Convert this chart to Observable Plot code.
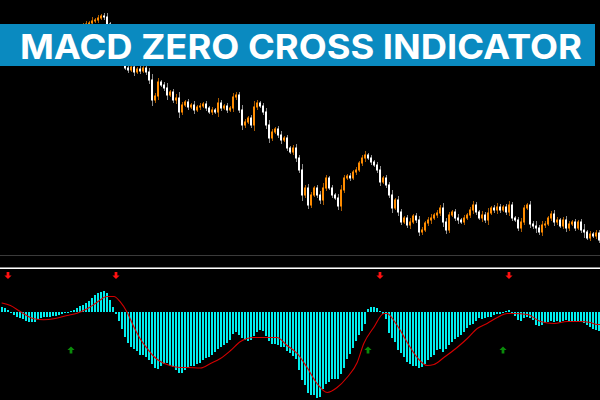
<!DOCTYPE html>
<html>
<head>
<meta charset="utf-8">
<script src="https://cdn.jsdelivr.net/npm/d3@7"></script>
<script src="https://cdn.jsdelivr.net/npm/@observablehq/plot@0.6"></script>
<style>
  html, body { margin: 0; padding: 0; background: #000; }
  #wrap { position: relative; width: 600px; height: 400px; background: #000; overflow: hidden; }
  #wrap svg { display: block; }
  .sep { width: 600px; }
</style>
</head>
<body>
<div id="wrap">
  <div id="price"></div>
  <div class="sep" style="height:1px;background:#3a3a3a"></div>
  <div class="sep" style="height:11px;background:#000"></div>
  <div class="sep" style="height:1px;background:#8a8a8a"></div>
  <div class="sep" style="height:1px;background:#ffffff"></div>
  <div id="macd"></div>
  <div id="banner" style="position:absolute;left:0;top:24px;width:595px;height:42px;background:#0a8ac0">
    <svg width="595" height="42" style="display:block">
      <text x="301" y="35" text-anchor="middle" fill="#ffffff" font-family="Inter, 'Open Sans', sans-serif" font-weight="700" font-size="34" textLength="562" lengthAdjust="spacingAndGlyphs">MACD ZERO CROSS INDICATOR</text>
    </svg>
  </div>
</div>
<script>
// ---- price closes (points), one per bar ----
const closes = [
  215,213,210,212,208,205,207,203,200,202,199,197,200,198,195,197,200,198,201,203,
  205,207,210,213,217,220,225,230,231,232,234,235,237,239,238,231,225,215,205,197,
  193,187,185,188,183,186,184,187,183,175,155,159,173,170,167,160,163,155,157,143,
  150,153,148,150,145,148,149,151,147,143,145,143,152,147,149,145,147,158,160,145,
  130,133,137,130,148,152,149,143,130,117,123,126,120,115,117,107,103,107,97,85,
  60,67,50,60,67,60,55,67,77,67,60,57,49,65,77,79,77,83,85,92,
  97,100,97,93,90,85,73,77,70,60,47,55,43,33,37,30,33,39,35,23,
  25,32,35,37,40,42,47,33,25,40,43,37,35,33,37,40,45,50,43,37,
  40,35,42,47,45,48,45,48,43,50,37,35,27,33,47,50,31,29,27,23,
  30,31,37,41,33,35,29,35,27,31,33,27,33,25,23,17,21,19,22,15
];

// ---- wick length beyond the body (points), one per bar ----
const wicks = [
  3,2,4,2,3,3,2,4,3,2,3,2,4,3,2,3,2,3,4,2,
  3,2,3,4,2,3,3,2,3,2,4,2,3,2,3,4,2,3,3,2,
  3,2,3,2,4,2,3,2,3,4,6,3,4,2,3,5,2,3,4,6,
  3,2,3,2,4,2,3,2,3,2,3,2,5,3,2,3,2,4,3,3,
  5,3,2,3,6,3,2,3,4,5,3,2,3,4,2,3,2,3,4,3,
  6,3,4,3,2,3,4,5,3,2,3,2,4,5,3,2,3,2,3,2,
  3,4,2,3,2,3,4,2,3,3,5,2,4,3,2,3,4,2,3,4,
  3,2,3,4,2,3,3,5,4,3,2,3,4,2,3,2,3,4,3,2,
  4,3,5,2,3,4,3,2,3,4,3,2,3,4,3,2,4,3,5,3,
  4,3,2,3,4,3,2,3,4,3,2,3,2,3,6,2,3,2,3,3
];

// ---- MACD histogram, one per bar ----
const macdHist = [
  5,4,2,-1,-3,-5,-6,-7,-9,-10,-10,-10,-7,-6,-5,-5,-5,-4,-4,-3,
  -2,-1,-1,1,2,4,6,7,9,11,14,17,19,20,21,19,12,5,-2,-9,
  -17,-25,-31,-35,-37,-39,-43,-43,-45,-48,-52,-56,-57,-54,-52,-51,-54,-55,-58,-61,
  -61,-58,-56,-54,-54,-52,-51,-48,-46,-45,-43,-40,-37,-35,-33,-31,-28,-22,-20,-23,
  -26,-28,-29,-28,-24,-20,-18,-19,-24,-29,-32,-32,-33,-35,-35,-39,-41,-44,-47,-58,
  -68,-73,-81,-83,-83,-86,-85,-77,-72,-70,-67,-67,-67,-62,-56,-47,-42,-36,-29,-23,
  -19,-12,3,5,5,4,1,-2,-7,-21,-26,-30,-38,-41,-45,-50,-52,-54,-54,-56,
  -55,-52,-48,-45,-43,-38,-37,-40,-37,-33,-30,-27,-25,-23,-20,-16,-13,-12,-9,-6,
  -7,-6,-5,-5,-3,-2,-2,-1,1,2,-1,-4,-8,-9,-6,-5,-6,-8,-13,-14,
  -13,-11,-10,-9,-10,-9,-10,-9,-8,-9,-9,-9,-9,-10,-11,-13,-15,-17,-18,-19
];

// ---- signal line, sampled at bar positions ----
const signalBar = [0,2.8,6.2,10.6,13.9,17.3,21.7,25,28.4,31.7,35,37.3,39.5,41.7,43.9,46.2,48.4,50.6,52.8,55,59.5,61.7,66.2,
  69.5,72.8,76.2,79.5,83.9,88.4,91.7,95,98.4,101.7,105,108.4,111.7,115,118.4,120.6,123.9,127.3,128.4,130.6,132.8,
  135.1,138.4,141.7,144,147.3,151.7,155.1,158.4,161.7,165.1,168.4,170.7,175.1,179.5,184,188.4,192.8,196.1,198.4,199.5];
const signalVal = [9.5,7,0.7,-6.3,-7.3,-6.3,-3,-0.7,3.7,10.3,16,16,10.3,0.3,-14,-27,-36,-44,-49,-52,-55,-55,-55.5,
  -51,-46,-38,-29,-25,-25,-25,-33,-41,-55,-71,-80,-75,-65,-50,-31,-15,-1,-1,-8,-18,
  -30,-45,-53,-52,-45,-35,-26,-16,-11,-5,-1,-1,-2,-9,-11,-9,-9,-10,-12,-12];

// ---- zero-cross arrows (bar indices) ----
const sellBars = [2, 38, 126, 169];
const buyBars = [23, 122, 167];
const sellLevel = 37;
const buyLevel = -37.5;

const candles = closes.map((c, i) => {
  const o = i ? closes[i - 1] : c + 2;
  return { i, o, c, hi: Math.max(o, c) + wicks[i], lo: Math.min(o, c) - wicks[i], up: c > o };
});
const hist = macdHist.map((v, i) => ({ i, v }));
const signal = signalBar.map((b, k) => ({ b, v: signalVal[k] }));

const xDomain = [-0.5, closes.length - 0.5];

const arrowDown = {
  draw(ctx, size) {
    const s = Math.sqrt(size / Math.PI);
    const w = s * 0.38;
    ctx.moveTo(-w, -s); ctx.lineTo(w, -s); ctx.lineTo(w, 0);
    ctx.lineTo(s, 0); ctx.lineTo(0, s); ctx.lineTo(-s, 0); ctx.lineTo(-w, 0);
    ctx.closePath();
  }
};
const arrowUp = {
  draw(ctx, size) {
    const s = Math.sqrt(size / Math.PI);
    const w = s * 0.38;
    ctx.moveTo(-w, s); ctx.lineTo(w, s); ctx.lineTo(w, 0);
    ctx.lineTo(s, 0); ctx.lineTo(0, -s); ctx.lineTo(-s, 0); ctx.lineTo(-w, 0);
    ctx.closePath();
  }
};

const pricePlot = Plot.plot({
  width: 600, height: 255, margin: 0,
  style: { background: "#000" },
  x: { domain: xDomain, range: [0, 600], axis: null },
  y: { domain: [0, 255], axis: null },
  marks: [
    Plot.ruleX(candles, {
      x: d => d.i + 1 / 6, y1: "lo", y2: "hi",
      stroke: d => d.up ? "#a85a00" : "#8c8c8c", strokeWidth: 1
    }),
    Plot.rect(candles, {
      x1: d => d.i - 1 / 6, x2: d => d.i + 0.5,
      y1: "o", y2: "c",
      insetTop: -0.5, insetBottom: -0.5,
      fill: d => d.up ? "#ff8c00" : "#ffffff"
    })
  ]
});
document.getElementById("price").appendChild(pricePlot);

const macdPlot = Plot.plot({
  width: 600, height: 131, margin: 0,
  style: { background: "#000" },
  x: { domain: xDomain, range: [0, 600], axis: null },
  y: { domain: [-88, 43], axis: null },
  marks: [
    Plot.rect(hist, {
      x1: d => d.i - 1 / 6, x2: d => d.i + 0.5,
      y1: 0, y2: "v",
      fill: "#00eeee"
    }),
    Plot.line(signal, { x: "b", y: "v", stroke: "#d40000", strokeWidth: 1.1, curve: "monotone-x" }),
    Plot.dot(sellBars, { x: d => d, y: () => sellLevel, symbol: arrowDown, r: 3.6, fill: "#ff1010", stroke: null }),
    Plot.dot(buyBars, { x: d => d, y: () => buyLevel, symbol: arrowUp, r: 3.6, fill: "#0a8a0a", stroke: null })
  ]
});
document.getElementById("macd").appendChild(macdPlot);
</script>
</body>
</html>
